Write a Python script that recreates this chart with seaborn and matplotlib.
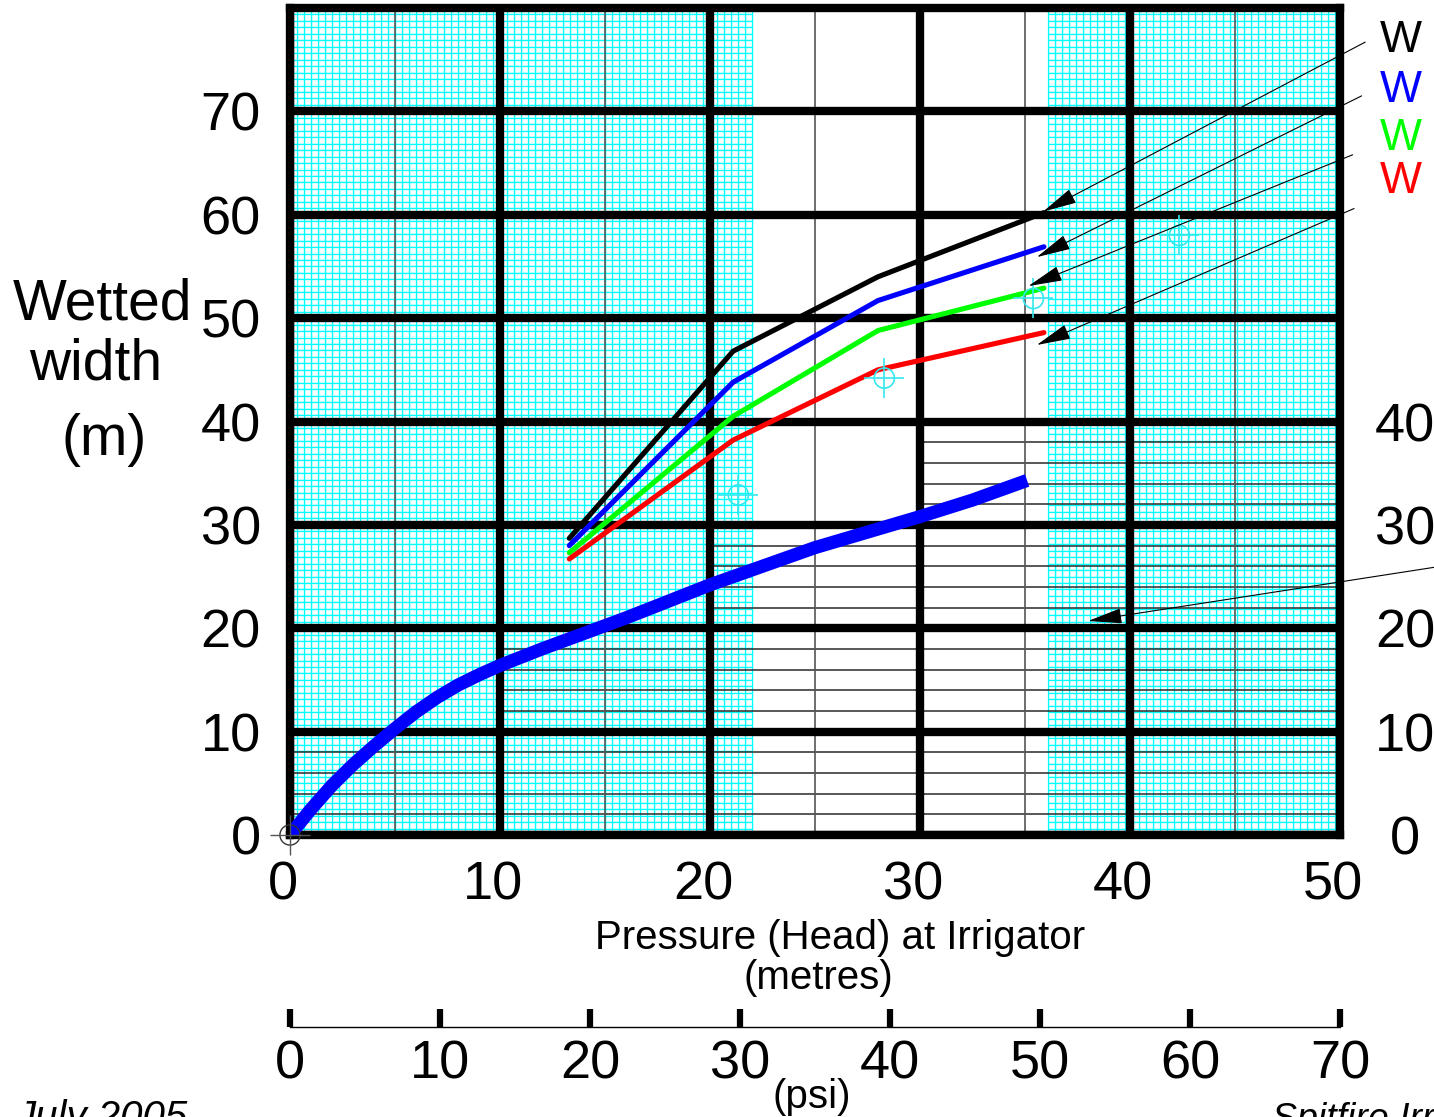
import numpy as np
import pandas as pd
import matplotlib
matplotlib.use("Agg")
import matplotlib.pyplot as plt
import matplotlib.transforms as mtransforms
import seaborn as sns

sns.set_style("white")
plt.rcParams['font.family'] = ['Liberation Sans', 'DejaVu Sans']
plt.rcParams['text.color'] = 'black'
plt.rcParams['xtick.color'] = 'black'
plt.rcParams['ytick.color'] = 'black'

# thick blue curve: wetted width (m) against pressure head (m)
main_head = [0, 1, 2, 3, 4, 5, 6, 7, 8, 9, 10, 12, 14, 16, 18, 20, 22.5, 25, 27.5, 30, 32.5, 35.1]
main_width = [0, 2.5, 4.8, 6.8, 8.6, 10.3, 11.9, 13.3, 14.5, 15.5, 16.4, 18.0, 19.5, 21.0,
              22.6, 24.2, 26.0, 27.8, 29.3, 30.8, 32.4, 34.3]

# the four "W" curves
w_head = [13.3, 21.1, 28.0, 35.9]
w_black = [28.7, 46.8, 54.0, 60.2]
w_blue = [28.0, 43.8, 51.7, 56.9]
w_green = [27.3, 40.5, 48.8, 52.9]
w_red = [26.7, 38.2, 45.0, 48.6]
w_names = ['black', 'blue', 'green', 'red']
w_colors = {'black': '#000000', 'blue': '#0000ff', 'green': '#00ff00', 'red': '#ff0000'}

# cyan reference crosshairs
ref_head = [21.35, 28.3, 35.4, 42.35]
ref_width = [32.9, 44.2, 51.9, 58.0]

x_ticks = [0, 10, 20, 30, 40, 50]
y_ticks = [0, 10, 20, 30, 40, 50, 60, 70]
y_ticks_right = [0, 10, 20, 30, 40]
psi_ticks = [0, 10, 20, 30, 40, 50, 60, 70]

W, H = 1434, 1117
fig = plt.figure(figsize=(W / 100, H / 100), dpi=100)
ax = fig.add_axes([290 / W, (H - 835) / H, 1050 / W, (835 - 8) / H])
ax.set_xlim(0, 50)
ax.set_ylim(0, 80)

# graph paper: fine cyan grid in two blocks
for x0, x1 in [(0, 22), (36.1, 49.85)]:
    xs = np.arange(x0, x1 + 1e-6, 1 / 3)
    ax.vlines(xs, 0, 80, color='#00ffff', lw=0.9, zorder=0.4)
    ax.vlines(xs + 0.05, 0, 80, color='#d6ffff', lw=0.6, zorder=0.3)
    ys = np.arange(0, 80, 0.625)
    ax.hlines(ys, x0, x1, color='#00ffff', lw=0.9, zorder=0.4)
    ax.hlines(ys + 0.1, x0, x1, color='#d6ffff', lw=0.6, zorder=0.3)

# stepped thin horizontal rules every 2 m
for k in range(4):
    ax.hlines([10 * k + 2, 10 * k + 4, 10 * k + 6, 10 * k + 8], 10 * k, 50,
              color='#2a2a2a', lw=1.1, zorder=1)

ax.set_axisbelow('line')
ax.set_xticks(x_ticks)
ax.set_xticks([5, 15, 25, 35, 45], minor=True)
ax.set_yticks(y_ticks)
ax.grid(which='major', color='black', lw=6)
ax.grid(which='minor', axis='x', color='#555555', lw=1.2)
for s in ax.spines.values():
    s.set_linewidth(6)
    s.set_color('black')
    s.set_visible(True)

ax.tick_params(axis='both', which='both', length=0)
ax.tick_params(axis='x', pad=18, labelsize=39)
ax.tick_params(axis='y', pad=21, labelsize=39)
offset = mtransforms.ScaledTranslation(-0.07, 0, fig.dpi_scale_trans)
for lab in ax.get_xticklabels():
    lab.set_transform(lab.get_transform() + offset)

# right-hand labels
ax_r = ax.twinx()
ax_r.set_ylim(0, 80)
ax_r.set_yticks(y_ticks_right)
ax_r.tick_params(axis='y', length=0, pad=47, labelsize=39)
for lab in ax_r.get_yticklabels():
    lab.set_horizontalalignment('center')
for s in ax_r.spines.values():
    s.set_visible(False)
ax_r.grid(False)

# curves
main_df = pd.DataFrame({'head': main_head, 'width': main_width})
sns.lineplot(data=main_df, x='head', y='width', color='#0000ff', lw=9.5,
             estimator=None, sort=False, ax=ax, solid_capstyle='butt',
             solid_joinstyle='round', zorder=3)

w_df = pd.DataFrame({
    'head': w_head * 4,
    'width': w_black + w_blue + w_green + w_red,
    'series': [n for n in w_names for _ in w_head],
})
sns.lineplot(data=w_df, x='head', y='width', hue='series', palette=w_colors,
             lw=3.7, estimator=None, sort=False, legend=False, ax=ax, zorder=3)
ax.set_xlabel('')
ax.set_ylabel('')

# crosshair markers
ax.scatter(ref_head, ref_width, s=210, marker='o', facecolors='none',
           edgecolors='#33e8ee', linewidths=1.2, zorder=4)
ax.scatter(ref_head, ref_width, s=800, marker='+', color='#33e8ee',
           linewidths=1.2, zorder=4)
ax.scatter([0], [0], s=210, marker='o', facecolors='none', edgecolors='#333333',
           linewidths=1.0, zorder=5, clip_on=False)
ax.scatter([0], [0], s=800, marker='+', color='#555555', linewidths=1.0,
           zorder=5, clip_on=False)

# leader arrows to the W labels
arrow_kw = dict(arrowstyle='-|>,head_length=0.9,head_width=0.2', color='black',
                lw=0.8, mutation_scale=24, shrinkA=0, shrinkB=0)
leaders = [((35.86, 60.3), (51.2, 76.7)),
           ((35.56, 55.9), (51.03, 71.5)),
           ((35.16, 53.1), (50.6, 65.8)),
           ((35.56, 47.4), (50.67, 60.6)),
           ((38.0, 20.7), (54.5, 25.9))]
for tip, tail in leaders:
    ax.annotate('', xy=tip, xytext=tail, arrowprops=arrow_kw,
                annotation_clip=False, zorder=6)

for name, ypx in zip(w_names, [40.7, 90.7, 138.3, 181.7]):
    fig.text(1401 / W, 1 - ypx / H, 'W', color=w_colors[name], fontsize=32,
             ha='center', va='center')

# axis titles
fig.text(103 / W, 1 - 320 / H, 'Wetted', fontsize=41, ha='center', va='baseline')
fig.text(96 / W, 1 - 380 / H, 'width', fontsize=41, ha='center', va='baseline')
fig.text(104 / W, 1 - 455 / H, '(m)', fontsize=41, ha='center', va='baseline')
fig.text(840 / W, 1 - 938 / H, 'Pressure (Head) at Irrigator', fontsize=29,
         ha='center', va='center')
fig.text(818 / W, 1 - 978 / H, '(metres)', fontsize=29, ha='center', va='center')

# psi scale
ax_psi = fig.add_axes([290 / W, (H - 1027) / H, 1050 / W, 0.001])
ax_psi.set_xlim(0, 70)
ax_psi.set_ylim(0, 1)
ax_psi.patch.set_visible(False)
for s in ['top', 'left', 'right']:
    ax_psi.spines[s].set_visible(False)
ax_psi.spines['bottom'].set_linewidth(1.0)
ax_psi.spines['bottom'].set_color('black')
ax_psi.set_yticks([])
ax_psi.set_xticks(psi_ticks)
ax_psi.tick_params(axis='x', direction='in', length=13, width=4.5, pad=9,
                   labelsize=39, bottom=True)
fig.text(812 / W, 1 - 1097 / H, '(psi)', fontsize=29, ha='center', va='center')

fig.text(15 / W, -12 / H, 'July 2005', fontsize=29, style='italic', va='baseline')
fig.text(1272 / W, -13 / H, 'Spitfire Irrigation', fontsize=27, style='italic',
         va='baseline')

fig.savefig('out.png', dpi=100)
